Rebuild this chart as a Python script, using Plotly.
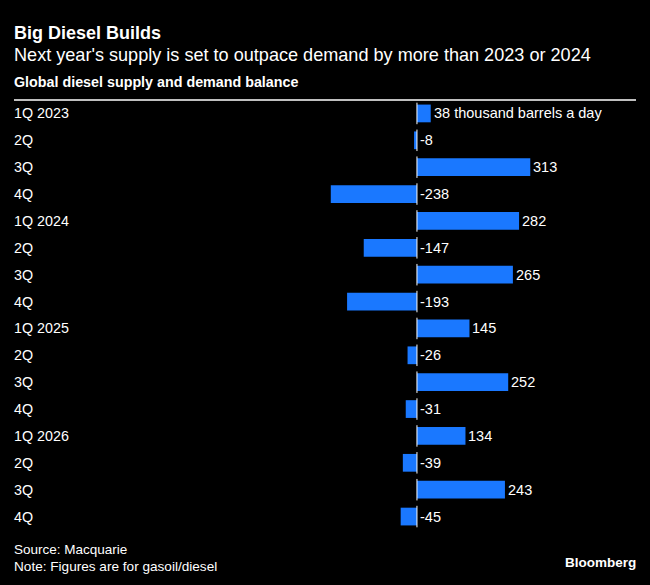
import plotly.graph_objects as go

labels = ["1Q 2023", "2Q", "3Q", "4Q", "1Q 2024", "2Q", "3Q", "4Q",
          "1Q 2025", "2Q", "3Q", "4Q", "1Q 2026", "2Q", "3Q", "4Q"]
values = [38, -8, 313, -238, 282, -147, 265, -193, 145, -26, 252, -31, 134, -39, 243, -45]

FONT = "Liberation Sans, Arial, sans-serif"
BLUE = "#1a78ff"
idx = list(range(len(labels)))

fig = go.Figure()
fig.add_trace(go.Bar(x=values, y=idx, orientation="h", marker=dict(color=BLUE, line=dict(width=0)),
                     width=0.66, hoverinfo="skip"))

ann = []
shapes = []
for i, (lab, v) in enumerate(zip(labels, values)):
    ann.append(dict(x=0, xref="paper", y=i, yref="y", text=lab, showarrow=False,
                    xanchor="left", xshift=-2, font=dict(family=FONT, size=14.3, color="white")))
    txt = f"{v} thousand barrels a day" if i == 0 else f"{v}"
    ann.append(dict(x=max(v, 0), xref="x", y=i, yref="y", text=txt, showarrow=False,
                    xanchor="left", xshift=1, font=dict(family=FONT, size=14.5, color="white")))
    shapes.append(dict(type="line", xref="x", yref="y", x0=0, x1=0, y0=i - 0.4, y1=i + 0.4,
                       line=dict(color="white", width=1)))

shapes.append(dict(type="line", xref="paper", yref="paper", x0=0, x1=1, y0=1.0, y1=1.0,
                   line=dict(color="white", width=1.5)))

H, W = 585, 650
t, b, l, r = 100, 55, 14, 14
ph = H - t - b
pw = W - l - r

header = [
    (33, "<b>Big Diesel Builds</b>", 18),
    (55, "Next year's supply is set to outpace demand by more than 2023 or 2024", 18.1),
    (82, "<b>Global diesel supply and demand balance</b>", 14.3),
    (549, "Source: Macquarie", 13.5),
    (566, "Note: Figures are for gasoil/diesel", 13.6),
]
for py, text, s in header:
    ann.append(dict(x=0, y=(H - b - py) / ph, xref="paper", yref="paper", xshift=-2,
                    text=text, showarrow=False, xanchor="left", yanchor="middle",
                    font=dict(family=FONT, size=s, color="white")))
ann.append(dict(x=1, y=(H - b - 562) / ph, xref="paper", yref="paper", xshift=2,
                text="<b>Bloomberg</b>", showarrow=False, xanchor="right", yanchor="middle",
                font=dict(family=FONT, size=13.5, color="white")))

fig.update_layout(
    width=W, height=H,
    paper_bgcolor="black", plot_bgcolor="black",
    margin=dict(l=l, r=r, t=t, b=b),
    showlegend=False,
    xaxis=dict(range=[-1113, 605], visible=False, fixedrange=True),
    yaxis=dict(range=[15.5, -0.5], visible=False, fixedrange=True),
    annotations=ann, shapes=shapes,
    font=dict(family=FONT, color="white"),
)
fig.write_html("out.html", config={"displayModeBar": False},
               post_script="document.body.style.margin='0';document.body.style.background='black';")
